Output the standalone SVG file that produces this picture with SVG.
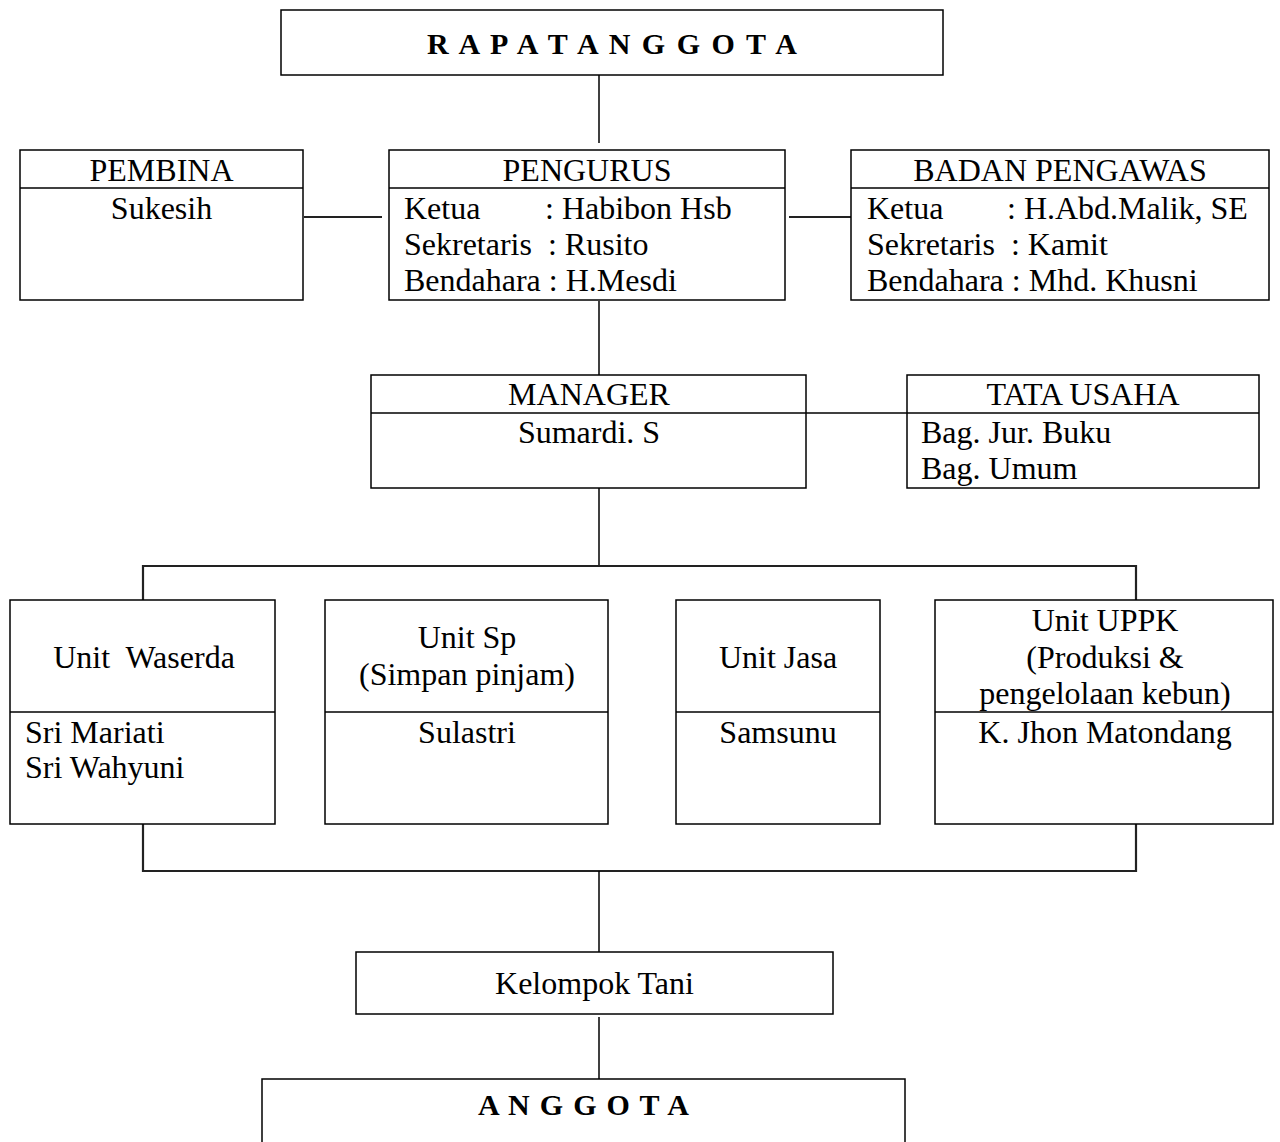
<svg xmlns="http://www.w3.org/2000/svg" width="1280" height="1142" viewBox="0 0 1280 1142">
<style>
text{font-family:"Liberation Serif","Times New Roman",serif;font-size:32px;fill:#000}
.c{text-anchor:middle}
.b{font-weight:bold;font-size:30px}
.box{fill:#fff;stroke:#000;stroke-width:1.5}
.div{stroke:#000;stroke-width:1.5}
.con{stroke:#000;stroke-width:1.5;fill:none}
.bus{stroke:#222;stroke-width:2.2;fill:none}
</style>
<rect width="1280" height="1142" fill="#fff"/>
<g id="connectors">
<line class="con" x1="599" y1="75" x2="599" y2="143"/>
<line class="bus" x1="304" y1="217" x2="382" y2="217"/>
<line class="bus" x1="789" y1="217" x2="852" y2="217"/>
<line class="con" x1="599" y1="301" x2="599" y2="375"/>
<line class="con" x1="806" y1="413" x2="907" y2="413"/>
<line class="con" x1="599" y1="488" x2="599" y2="566"/>
<polyline class="bus" points="143,600 143,566 1136,566 1136,600"/>
<polyline class="bus" points="143,824 143,871 1136,871 1136,824"/>
<line class="con" x1="599" y1="871" x2="599" y2="955"/>
<line class="con" x1="599" y1="1017" x2="599" y2="1079"/>
</g>
<g id="rapat-anggota">
<rect class="box" x="281" y="10" width="662" height="65"/>
<text class="b" x="427" y="54" textLength="370" lengthAdjust="spacing">R A P A T A N G G O T A</text>
</g>
<g id="pembina">
<rect class="box" x="20" y="150" width="283" height="150"/>
<line class="div" x1="20" y1="188" x2="303" y2="188"/>
<text class="c" x="161.5" y="181">PEMBINA</text>
<text class="c" x="161.5" y="219">Sukesih</text>
</g>
<g id="pengurus">
<rect class="box" x="389" y="150" width="396" height="150"/>
<line class="div" x1="389" y1="188" x2="785" y2="188"/>
<text class="c" x="587" y="181">PENGURUS</text>
<text y="219"><tspan x="404">Ketua</tspan><tspan x="545">: Habibon Hsb</tspan></text>
<text y="255" xml:space="preserve" x="404">Sekretaris  : Rusito</text>
<text y="291" x="404">Bendahara : H.Mesdi</text>
</g>
<g id="badan-pengawas">
<rect class="box" x="851" y="150" width="418" height="150"/>
<line class="div" x1="851" y1="188" x2="1269" y2="188"/>
<text class="c" x="1060" y="181">BADAN PENGAWAS</text>
<text y="219"><tspan x="867">Ketua</tspan><tspan x="1007">: H.Abd.Malik, SE</tspan></text>
<text y="255" xml:space="preserve" x="867">Sekretaris  : Kamit</text>
<text y="291" x="867">Bendahara : Mhd. Khusni</text>
</g>
<g id="manager">
<rect class="box" x="371" y="375" width="435" height="113"/>
<line class="div" x1="371" y1="413" x2="806" y2="413"/>
<text class="c" x="589" y="405">MANAGER</text>
<text class="c" x="589" y="443">Sumardi. S</text>
</g>
<g id="tata-usaha">
<rect class="box" x="907" y="375" width="352" height="113"/>
<line class="div" x1="907" y1="413" x2="1259" y2="413"/>
<text class="c" x="1083" y="405">TATA USAHA</text>
<text x="921" y="443">Bag. Jur. Buku</text>
<text x="921" y="479">Bag. Umum</text>
</g>
<g id="unit-waserda">
<rect class="box" x="10" y="600" width="265" height="224"/>
<line class="div" x1="10" y1="712" x2="275" y2="712"/>
<text class="c" x="144" y="668" xml:space="preserve">Unit  Waserda</text>
<text x="25" y="743">Sri Mariati</text>
<text x="25" y="778">Sri Wahyuni</text>
</g>
<g id="unit-sp">
<rect class="box" x="325" y="600" width="283" height="224"/>
<line class="div" x1="325" y1="712" x2="608" y2="712"/>
<text class="c" x="467" y="648">Unit Sp</text>
<text class="c" x="467" y="685">(Simpan pinjam)</text>
<text class="c" x="467" y="743">Sulastri</text>
</g>
<g id="unit-jasa">
<rect class="box" x="676" y="600" width="204" height="224"/>
<line class="div" x1="676" y1="712" x2="880" y2="712"/>
<text class="c" x="778" y="668">Unit Jasa</text>
<text class="c" x="778" y="743">Samsunu</text>
</g>
<g id="unit-uppk">
<rect class="box" x="935" y="600" width="338" height="224"/>
<line class="div" x1="935" y1="712" x2="1273" y2="712"/>
<text class="c" x="1105" y="631">Unit UPPK</text>
<text class="c" x="1105" y="668">(Produksi &amp;</text>
<text class="c" x="1105" y="704">pengelolaan kebun)</text>
<text class="c" x="1105" y="743">K. Jhon Matondang</text>
</g>
<g id="kelompok-tani">
<rect class="box" x="356" y="952" width="477" height="62"/>
<text class="c" x="594.5" y="994">Kelompok Tani</text>
</g>
<g id="anggota">
<rect class="box" x="262" y="1079" width="643" height="90"/>
<text class="b" x="478" y="1115" textLength="211" lengthAdjust="spacing">A N G G O T A</text>
</g>
</svg>
